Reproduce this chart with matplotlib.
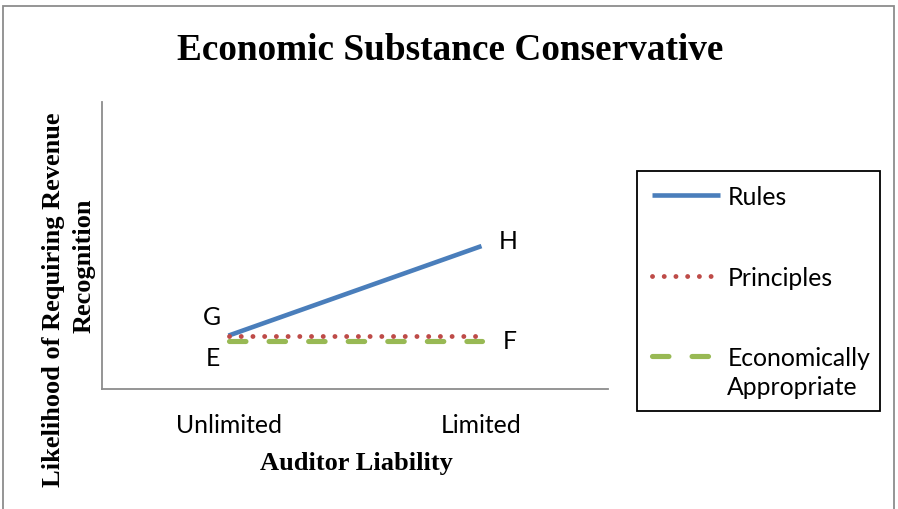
import matplotlib
matplotlib.use("Agg")
import matplotlib.pyplot as plt
from matplotlib.patches import Rectangle
from matplotlib.legend_handler import HandlerLine2D

categories = ["Unlimited", "Limited"]
rules = [1.86, 4.98]
principles = [1.86, 1.86]
econ = [1.68, 1.68]
series_names = ["Rules", "Principles", "Economically\nAppropriate"]
point_labels = {"G": (0, 1.86), "E": (0, 1.68), "H": (1, 4.98), "F": (1, 1.68)}

W, H = 898, 510
fig = plt.figure(figsize=(W / 100, H / 100), dpi=100)
ax = fig.add_axes([102 / W, 1 - 390 / H, (608 - 102) / W, (390 - 103) / H])

x = [0, 1]
c_rules, c_pr, c_ec = "#4A7EBB", "#BE4B48", "#98B954"
l1, = ax.plot(x, rules, color=c_rules, lw=3.3, solid_capstyle="butt", zorder=3)
l2, = ax.plot(x, principles, color=c_pr, lw=3.5, linestyle=(0, (0.01, 2.4)),
              dash_capstyle="round", zorder=4)
l3, = ax.plot(x, econ, color=c_ec, lw=3.7, linestyle=(0, (3.2, 4.5)),
              dash_capstyle="round", zorder=2)

fs = 17.8
ax.set_xlim(-0.5, 1.5)
ax.set_ylim(0, 10)
ax.set_xticks(x)
ax.set_xticklabels(categories, fontfamily="Lato", fontsize=fs)
ax.tick_params(axis="x", length=0, pad=17.5)
ax.set_yticks([])
for s in ["top", "right"]:
    ax.spines[s].set_visible(False)
for s in ["left", "bottom"]:
    ax.spines[s].set_color("#8C8C8C")
    ax.spines[s].set_linewidth(1.3)

offsets = {"G": (-12, 14), "E": (-11, -12), "H": (19, 4), "F": (20, 0)}
for k, (xi, yi) in point_labels.items():
    ax.annotate(k, (xi, yi), xytext=offsets[k], textcoords="offset points",
                ha="center", va="center", fontfamily="Lato", fontsize=fs)

class OffsetHandler(HandlerLine2D):
    def __init__(self, dy=0, **kw):
        super().__init__(**kw)
        self.dy = dy
    def create_artists(self, legend, orig_handle, xdescent, ydescent, width,
                       height, fontsize, trans):
        arts = super().create_artists(legend, orig_handle, xdescent, ydescent,
                                      width, height, fontsize, trans)
        for a in arts:
            yd = a.get_ydata()
            a.set_ydata([v + self.dy for v in yd])
        return arts

leg = ax.legend([l1, l2, l3], series_names, loc="upper left",
                bbox_to_anchor=(652 / W, 1 - 186 / H), bbox_transform=fig.transFigure,
                frameon=False, prop={"family": "Lato", "size": fs},
                handlelength=2.75, handletextpad=0.3, labelspacing=2.33,
                borderaxespad=0, borderpad=0,
                handler_map={l3: OffsetHandler(dy=12)})
leg.get_texts()[2].set_linespacing(1.3)

fig.patches.append(Rectangle((637 / W, 1 - 412 / H), (880 - 637) / W, (412 - 172) / H,
                             transform=fig.transFigure, fill=False,
                             edgecolor="black", lw=1.3))
fig.patches.append(Rectangle((3 / W, -0.05), (894 - 3) / W, 1.05 - 7 / H,
                             transform=fig.transFigure, fill=False,
                             edgecolor="#8C8C8C", lw=1.3))

serif = "Liberation Serif"
fig.text(450 / W, 1 - 50 / H, "Economic Substance Conservative", ha="center",
         va="center", fontfamily=serif, fontweight="bold", fontsize=26.8)
fig.text(356 / W, 1 - 464 / H, "Auditor Liability", ha="center", va="center",
         fontfamily=serif, fontweight="bold", fontsize=19)
fig.text(54 / W, 1 - 300 / H, "Likelihood of Requiring Revenue", ha="center",
         va="center", rotation=90, fontfamily=serif, fontweight="bold", fontsize=19)
fig.text(84 / W, 1 - 266 / H, "Recognition", ha="center",
         va="center", rotation=90, fontfamily=serif, fontweight="bold", fontsize=19)

fig.savefig("out.png", dpi=100)
